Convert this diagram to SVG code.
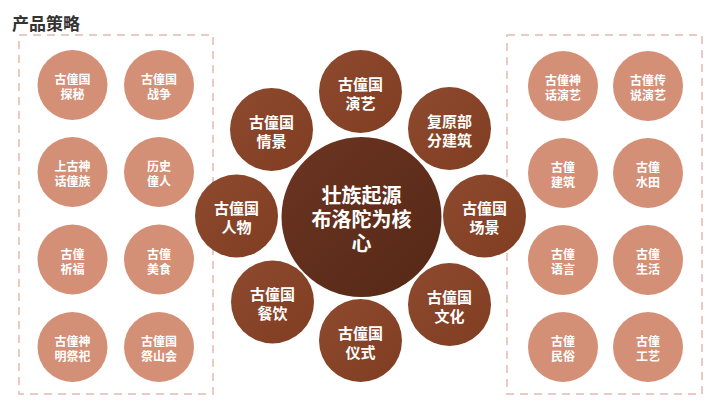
<svg xmlns="http://www.w3.org/2000/svg" width="720" height="405" viewBox="0 0 720 405">
<defs>
<style>
.t{font-family:"Noto Sans CJK SC","Noto Sans",sans-serif;font-weight:700;fill:#fff;text-anchor:middle;dominant-baseline:central}
.s{font-size:12px}
.m{font-size:15px}
.b{font-size:20px}
.light{fill:#D48F77}
.sat{fill:url(#gs)}
.box{fill:none;stroke:#EACAC2;stroke-width:2;stroke-dasharray:8 6}
</style>
<linearGradient id="gs" x1="0" y1="0" x2="1" y2="1">
<stop offset="0" stop-color="#8E4A2E"/>
<stop offset="1" stop-color="#7F3D22"/>
</linearGradient>
<linearGradient id="gc" x1="0" y1="0" x2="1" y2="1">
<stop offset="0" stop-color="#6C3522"/>
<stop offset="1" stop-color="#552816"/>
</linearGradient>
</defs>
<rect width="720" height="405" fill="#fff"/>
<text x="12" y="22" font-family="'Noto Sans CJK SC',sans-serif" font-weight="700" font-size="17" fill="#333" dominant-baseline="central">产品策略</text>
<rect class="box" x="19" y="35" width="194" height="359"/>
<rect class="box" x="507" y="35" width="195" height="359"/>
<g id="connectors"/>
<g id="l1"><circle class="light" cx="72.5" cy="85" r="35"/><text class="t s" y="78"><tspan x="72.5">古僮国</tspan><tspan x="72.5" dy="15">探秘</tspan></text></g>
<g id="l2"><circle class="light" cx="159" cy="85" r="35"/><text class="t s" y="78"><tspan x="159">古僮国</tspan><tspan x="159" dy="15">战争</tspan></text></g>
<g id="l3"><circle class="light" cx="72.5" cy="172" r="35"/><text class="t s" y="165"><tspan x="72.5">上古神</tspan><tspan x="72.5" dy="15">话僮族</tspan></text></g>
<g id="l4"><circle class="light" cx="159" cy="172" r="35"/><text class="t s" y="165"><tspan x="159">历史</tspan><tspan x="159" dy="15">僮人</tspan></text></g>
<g id="l5"><circle class="light" cx="72.5" cy="259.5" r="35"/><text class="t s" y="252.5"><tspan x="72.5">古僮</tspan><tspan x="72.5" dy="15">祈福</tspan></text></g>
<g id="l6"><circle class="light" cx="159" cy="259.5" r="35"/><text class="t s" y="252.5"><tspan x="159">古僮</tspan><tspan x="159" dy="15">美食</tspan></text></g>
<g id="l7"><circle class="light" cx="72.5" cy="347" r="35"/><text class="t s" y="340"><tspan x="72.5">古僮神</tspan><tspan x="72.5" dy="15">明祭祀</tspan></text></g>
<g id="l8"><circle class="light" cx="159" cy="347" r="35"/><text class="t s" y="340"><tspan x="159">古僮国</tspan><tspan x="159" dy="15">祭山会</tspan></text></g>
<g id="r1"><circle class="light" cx="563" cy="86" r="35"/><text class="t s" y="79"><tspan x="563">古僮神</tspan><tspan x="563" dy="15">话演艺</tspan></text></g>
<g id="r2"><circle class="light" cx="648" cy="86" r="35"/><text class="t s" y="79"><tspan x="648">古僮传</tspan><tspan x="648" dy="15">说演艺</tspan></text></g>
<g id="r3"><circle class="light" cx="563" cy="173" r="35"/><text class="t s" y="166"><tspan x="563">古僮</tspan><tspan x="563" dy="15">建筑</tspan></text></g>
<g id="r4"><circle class="light" cx="648" cy="173" r="35"/><text class="t s" y="166"><tspan x="648">古僮</tspan><tspan x="648" dy="15">水田</tspan></text></g>
<g id="r5"><circle class="light" cx="563" cy="260" r="35"/><text class="t s" y="253"><tspan x="563">古僮</tspan><tspan x="563" dy="15">语言</tspan></text></g>
<g id="r6"><circle class="light" cx="648" cy="260" r="35"/><text class="t s" y="253"><tspan x="648">古僮</tspan><tspan x="648" dy="15">生活</tspan></text></g>
<g id="r7"><circle class="light" cx="563" cy="347" r="35"/><text class="t s" y="340"><tspan x="563">古僮</tspan><tspan x="563" dy="15">民俗</tspan></text></g>
<g id="r8"><circle class="light" cx="648" cy="347" r="35"/><text class="t s" y="340"><tspan x="648">古僮</tspan><tspan x="648" dy="15">工艺</tspan></text></g>
<g id="core"><circle cx="361.5" cy="217" r="80" fill="url(#gc)"/><text class="t b" y="194"><tspan x="361.5">壮族起源</tspan><tspan x="361.5" dy="23.5">布洛陀为核</tspan><tspan x="361.5" dy="24.5">心</tspan></text></g>
<g id="s1"><circle class="sat" cx="360.5" cy="91.5" r="41.5"/><text class="t m" y="82.5"><tspan x="360.5">古僮国</tspan><tspan x="360.5" dy="19">演艺</tspan></text></g>
<g id="s2"><circle class="sat" cx="449.5" cy="128.5" r="41.5"/><text class="t m" y="119.5"><tspan x="449.5">复原部</tspan><tspan x="449.5" dy="19">分建筑</tspan></text></g>
<g id="s3"><circle class="sat" cx="484.5" cy="216" r="41.5"/><text class="t m" y="207"><tspan x="484.5">古僮国</tspan><tspan x="484.5" dy="19">场景</tspan></text></g>
<g id="s4"><circle class="sat" cx="449.5" cy="304.5" r="41.5"/><text class="t m" y="295.5"><tspan x="449.5">古僮国</tspan><tspan x="449.5" dy="19">文化</tspan></text></g>
<g id="s5"><circle class="sat" cx="360.5" cy="340.5" r="41.5"/><text class="t m" y="331.5"><tspan x="360.5">古僮国</tspan><tspan x="360.5" dy="19">仪式</tspan></text></g>
<g id="s6"><circle class="sat" cx="272.5" cy="302" r="41.5"/><text class="t m" y="293"><tspan x="272.5">古僮国</tspan><tspan x="272.5" dy="19">餐饮</tspan></text></g>
<g id="s7"><circle class="sat" cx="236.5" cy="216" r="41.5"/><text class="t m" y="207"><tspan x="236.5">古僮国</tspan><tspan x="236.5" dy="19">人物</tspan></text></g>
<g id="s8"><circle class="sat" cx="271.5" cy="129.5" r="41.5"/><text class="t m" y="120.5"><tspan x="271.5">古僮国</tspan><tspan x="271.5" dy="19">情景</tspan></text></g>
</svg>
